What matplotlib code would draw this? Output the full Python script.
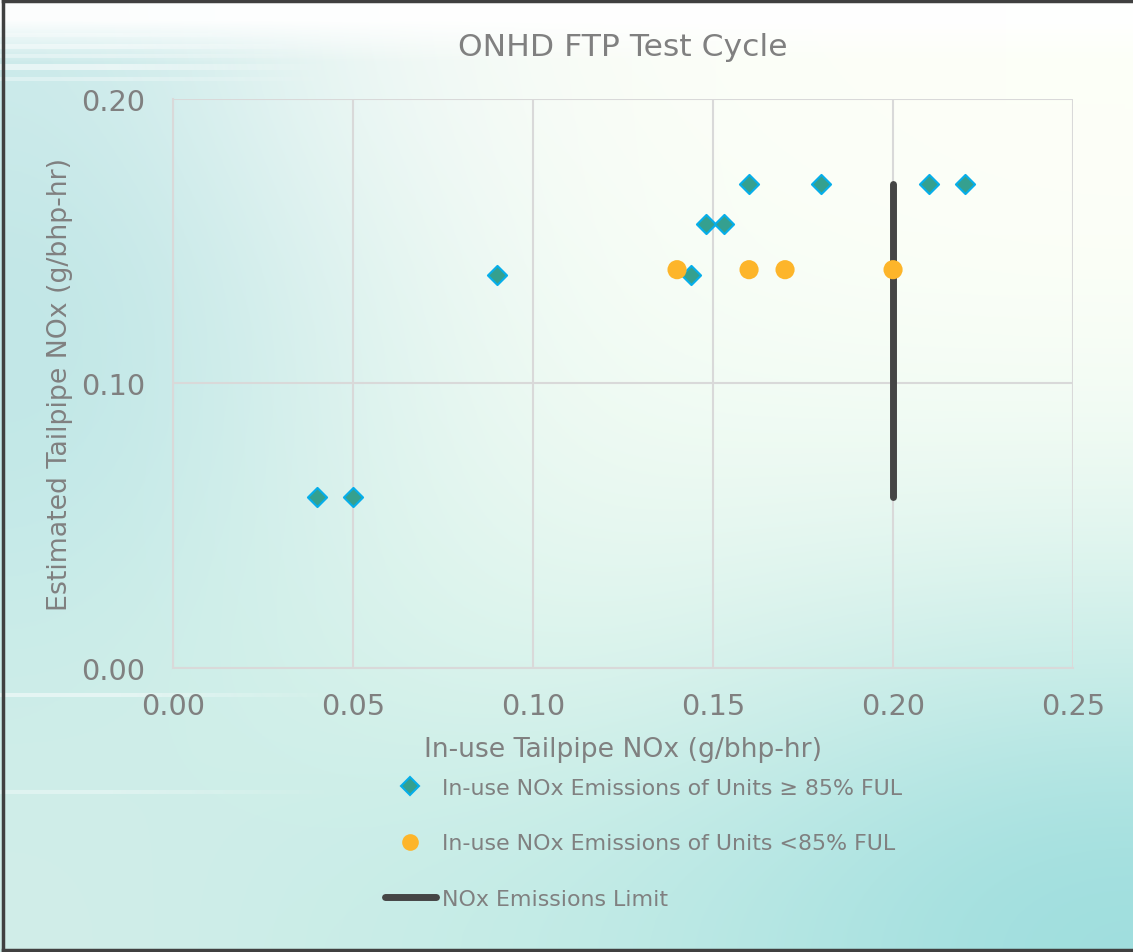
import numpy as np
import matplotlib
matplotlib.use("Agg")
import matplotlib.pyplot as plt
from matplotlib.lines import Line2D

# data (g/bhp-hr)
full_x = [0.04, 0.05, 0.09, 0.144, 0.148, 0.153, 0.16, 0.18, 0.21, 0.22]
full_y = [0.06, 0.06, 0.138, 0.138, 0.156, 0.156, 0.17, 0.17, 0.17, 0.17]
part_x = [0.14, 0.16, 0.17, 0.20]
part_y = [0.14, 0.14, 0.14, 0.14]
limit_x = [0.20, 0.20]
limit_y = [0.06, 0.17]
x_ticks = [0.00, 0.05, 0.10, 0.15, 0.20, 0.25]
y_ticks = [0.00, 0.10, 0.20]

label_full = "In-use NOx Emissions of Units \u2265 85% FUL"
label_part = "In-use NOx Emissions of Units <85% FUL"
label_limit = "NOx Emissions Limit"

grey = "#808080"
teal_face = "#35a08f"
teal_edge = "#05aeea"
orange = "#fdb52a"
dark = "#454545"

plt.rcParams["font.family"] = ["DejaVu Sans"]

fig = plt.figure(figsize=(11.33, 9.53), dpi=100)

# soft teal-to-white background (top row first)
bg = fig.add_axes([0, 0, 1, 1], zorder=-10)
bg_colors = np.array([
    [[0.80, 0.92, 0.92], [0.93, 0.97, 0.96], [0.98, 0.99, 0.97], [0.99, 1.00, 0.97], [0.99, 1.00, 0.97]],
    [[0.75, 0.90, 0.90], [0.87, 0.95, 0.94], [0.96, 0.99, 0.96], [0.98, 1.00, 0.97], [0.99, 1.00, 0.97]],
    [[0.76, 0.91, 0.91], [0.86, 0.95, 0.93], [0.93, 0.98, 0.95], [0.93, 0.98, 0.95], [0.93, 0.98, 0.95]],
    [[0.80, 0.93, 0.91], [0.84, 0.95, 0.92], [0.87, 0.96, 0.93], [0.83, 0.94, 0.92], [0.79, 0.93, 0.91]],
    [[0.82, 0.93, 0.91], [0.79, 0.93, 0.91], [0.76, 0.92, 0.90], [0.70, 0.90, 0.89], [0.62, 0.87, 0.87]],
])
bg.imshow(bg_colors, aspect="auto", interpolation="bicubic", extent=[0, 1, 0, 1])
# whitish haze along the top edge
haze = np.ones((2, 2, 4))
haze[1, :, 3] = 0.0
haze[0, :, 3] = 0.95
bg.imshow(haze, aspect="auto", interpolation="bilinear", extent=[0, 1, 0.91, 1.0])
# faint horizontal streaks fading to the right
streak = np.ones((1, 2, 4))
streak[0, 1, 3] = 0.0
for yy, aa, hh in [(0.962, 0.3, 0.004), (0.950, 0.45, 0.005), (0.940, 0.35, 0.004),
                   (0.928, 0.55, 0.006), (0.916, 0.35, 0.004), (0.27, 0.5, 0.004),
                   (0.168, 0.35, 0.004)]:
    s = streak.copy()
    s[0, 0, 3] = aa
    bg.imshow(s, aspect="auto", interpolation="bilinear",
              extent=[0, 0.4, yy - hh / 2, yy + hh / 2])
# frame on left, top and bottom
bg.plot([0.003, 0.003], [0.002, 0.998], color="#404040", lw=2.5)
bg.plot([0.003, 1.0], [0.998, 0.998], color="#404040", lw=2.5)
bg.plot([0.003, 1.0], [0.002, 0.002], color="#404040", lw=2.5)
bg.set_xlim(0, 1)
bg.set_ylim(0, 1)
bg.axis("off")

ax = fig.add_axes([0.1527, 0.2980, 0.7944, 0.5971])
ax.set_facecolor((0, 0, 0, 0))

ax.plot(limit_x, limit_y, color=dark, lw=5, solid_capstyle="round", zorder=3)
ax.scatter(full_x, full_y, marker="D", s=95, color=teal_face, edgecolor=teal_edge,
           linewidths=1.5, zorder=4)
ax.scatter(part_x, part_y, marker="o", s=190, color=orange, edgecolor="none", zorder=4)

ax.set_xlim(0, 0.25)
ax.set_ylim(0, 0.20)
ax.set_xticks(x_ticks)
ax.set_yticks(y_ticks)
ax.set_xticklabels([f"{v:.2f}" for v in x_ticks])
ax.set_yticklabels([f"{v:.2f}" for v in y_ticks])
ax.tick_params(length=0, labelsize=20.7, colors=grey)
ax.tick_params(axis="x", pad=17)
ax.tick_params(axis="y", pad=20)
ax.grid(True, color="#d9d9d9", lw=1.5)
ax.set_axisbelow(True)
for s in ["top", "right"]:
    ax.spines[s].set_visible(False)
for s in ["left", "bottom"]:
    ax.spines[s].set_color("#d9d9d9")
    ax.spines[s].set_linewidth(1.5)

ax.set_title("ONHD FTP Test Cycle", fontsize=22.6, color=grey, pad=32)
ax.set_xlabel("In-use Tailpipe NOx (g/bhp-hr)", fontsize=19.2, color=grey, labelpad=12)
ax.set_ylabel("Estimated Tailpipe NOx (g/bhp-hr)", fontsize=19.3, color=grey, labelpad=6)

handles = [
    Line2D([], [], ls="none", marker="D", ms=9, mfc=teal_face, mec=teal_edge, mew=1.5),
    Line2D([], [], ls="none", marker="o", ms=12, mfc=orange, mec="none"),
    Line2D([], [], color=dark, lw=5, solid_capstyle="round"),
]
fig.legend(handles, [label_full, label_part, label_limit], loc="upper left",
           bbox_to_anchor=(385 / 1133, 1 - 779 / 953), frameon=False, fontsize=15.9,
           labelcolor=grey, handlelength=2.3, handletextpad=0.3, labelspacing=1.6,
           borderpad=0, borderaxespad=0)

fig.savefig("out.png", dpi=100)
